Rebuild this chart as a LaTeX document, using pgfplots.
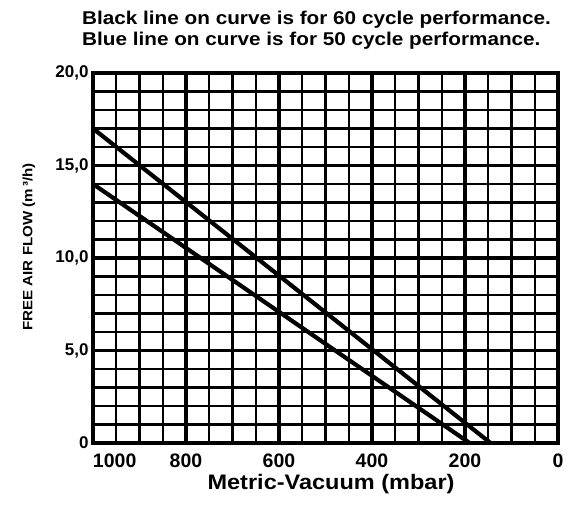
\documentclass[border=0pt]{standalone}
\usepackage{pgfplots}
\pgfplotsset{compat=1.18}
\usepackage{fontspec}
\setmainfont{Liberation Sans}
\newfontfamily\wide{Liberation Sans}[FakeStretch=1.12]
\begin{document}
\bfseries
\begin{tikzpicture}
\begin{axis}[
  scale only axis, width=465pt, height=370pt,
  xmin=0, xmax=1000, ymin=0, ymax=20, x dir=reverse,
  xtick={0,200,400,600,800,1000},
  xticklabels={0,200,400,600,800,\makebox[0pt][l]{1000}},
  minor xtick={50,100,150,250,300,350,450,500,550,650,700,750,850,900,950},
  ytick={0,5,10,15,20},
  yticklabels={0,{5,0},{10,0},{15,0},{20,0}},
  minor ytick={1,2,3,4,6,7,8,9,11,12,13,14,16,17,18,19},
  grid=both,
  major grid style={black, line width=3.2pt},
  minor grid style={black, line width=2.3pt},
  axis line style={black, line width=3.5pt},
  major tick length=0pt, minor tick length=0pt,
  xticklabel style={font=\fontsize{19.5}{19.5}\selectfont\bfseries, anchor=base, yshift=-25pt},
  yticklabel style={font=\fontsize{17}{17}\selectfont\bfseries, anchor=east, xshift=-1pt},
  ylabel={\wide FREE AIR FLOW (m\,³/h)},
  ylabel style={font=\fontsize{13.5}{13.5}\selectfont\bfseries, at={(rel axis cs:-0.1376,0.53)}, anchor=center},
  xlabel={\wide Metric-Vacuum (mbar)},
  xlabel style={font=\fontsize{21}{21}\selectfont\bfseries, at={(rel axis cs:0.512,-0.127)}, anchor=base},
]
\addplot[black, line width=4.2pt] coordinates {(1000,17) (145,0)};
\addplot[black, line width=4.2pt] coordinates {(1000,14) (190,0)};
\coordinate (sw) at (rel axis cs:0,0);
\coordinate (ne) at (rel axis cs:1,1);
\coordinate (nw) at (rel axis cs:0,1);
\end{axis}
\node[anchor=base west, inner sep=0pt, font=\fontsize{18.5}{18.5}\selectfont\bfseries\wide] at ([shift={(-11pt,48pt)}]nw) {Black line on curve is for 60 cycle performance.};
\node[anchor=base west, inner sep=0pt, font=\fontsize{18.5}{18.5}\selectfont\bfseries\wide] at ([shift={(-11pt,27pt)}]nw) {Blue line on curve is for 50 cycle performance.};
\pgfresetboundingbox
\path ([shift={(-93pt,-73pt)}]sw) rectangle ([shift={(18pt,73pt)}]ne);
\end{tikzpicture}
\end{document}
